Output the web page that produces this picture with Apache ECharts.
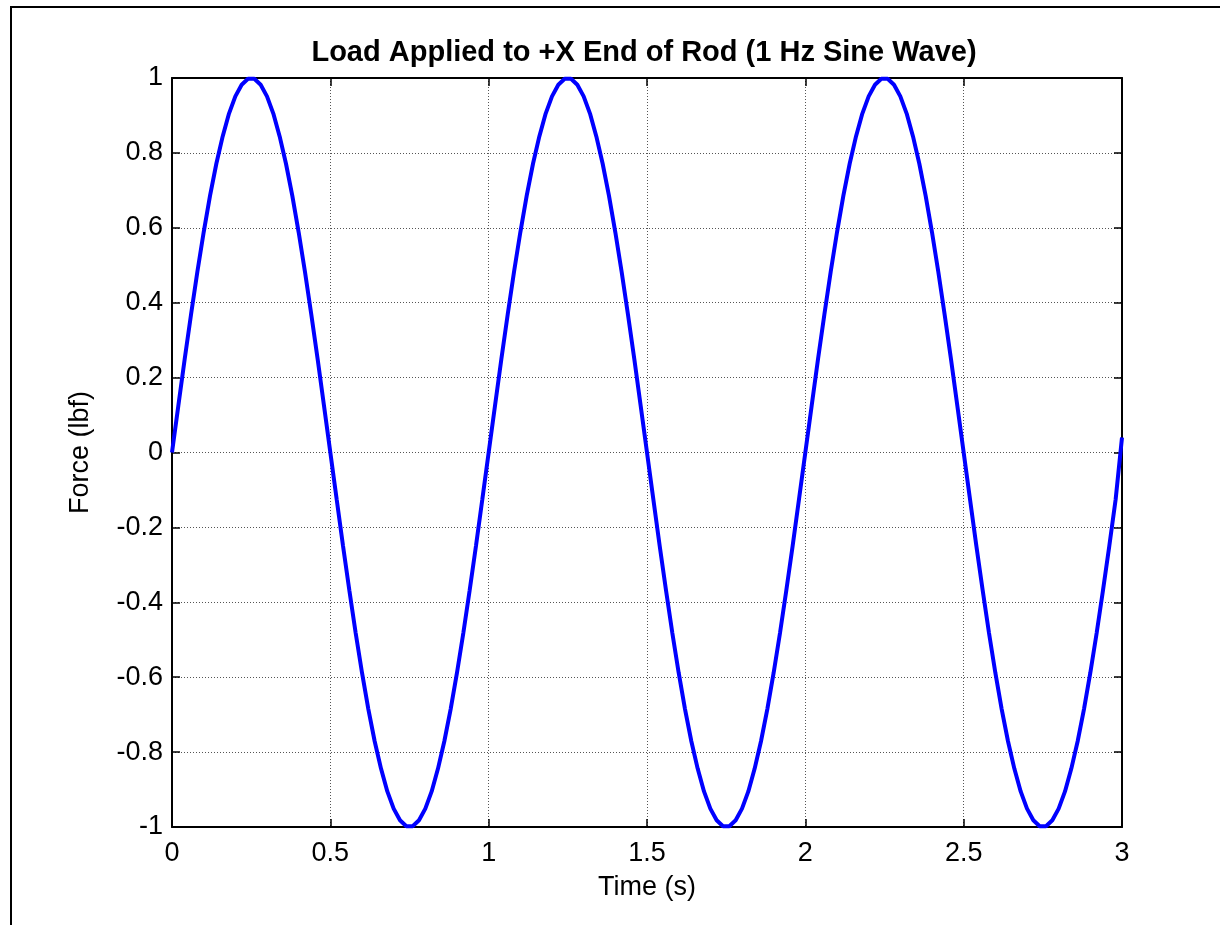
<!DOCTYPE html>
<html>
<head>
<meta charset="utf-8">
<script src="https://cdn.jsdelivr.net/npm/echarts@6/dist/echarts.min.js"></script>
<style>
html,body{margin:0;padding:0;background:#fff;}
#chart{width:1220px;height:925px;}
</style>
</head>
<body>
<div id="chart"></div>
<script>
var titleText = 'Load Applied to +X End of Rod (1 Hz Sine Wave)';
var xAxisName = 'Time (s)';
var yAxisName = 'Force (lbf)';

var timeS = [
0.00,0.02,0.04,0.06,0.08,0.10,0.12,0.14,0.16,0.18,0.20,0.22,0.24,0.26,0.28,0.30,0.32,0.34,0.36,0.38,
0.40,0.42,0.44,0.46,0.48,0.50,0.52,0.54,0.56,0.58,0.60,0.62,0.64,0.66,0.68,0.70,0.72,0.74,0.76,0.78,
0.80,0.82,0.84,0.86,0.88,0.90,0.92,0.94,0.96,0.98,1.00,1.02,1.04,1.06,1.08,1.10,1.12,1.14,1.16,1.18,
1.20,1.22,1.24,1.26,1.28,1.30,1.32,1.34,1.36,1.38,1.40,1.42,1.44,1.46,1.48,1.50,1.52,1.54,1.56,1.58,
1.60,1.62,1.64,1.66,1.68,1.70,1.72,1.74,1.76,1.78,1.80,1.82,1.84,1.86,1.88,1.90,1.92,1.94,1.96,1.98,
2.00,2.02,2.04,2.06,2.08,2.10,2.12,2.14,2.16,2.18,2.20,2.22,2.24,2.26,2.28,2.30,2.32,2.34,2.36,2.38,
2.40,2.42,2.44,2.46,2.48,2.50,2.52,2.54,2.56,2.58,2.60,2.62,2.64,2.66,2.68,2.70,2.72,2.74,2.76,2.78,
2.80,2.82,2.84,2.86,2.88,2.90,2.92,2.94,2.96,2.98,3.00
];

var forceLbf = [
0,0.125,0.249,0.368,0.482,0.588,0.685,0.771,0.844,0.905,0.951,0.982,0.998,0.998,0.982,0.951,0.905,0.844,0.771,0.685,
0.588,0.482,0.368,0.249,0.125,0,-0.125,-0.249,-0.368,-0.482,-0.588,-0.685,-0.771,-0.844,-0.905,-0.951,-0.982,-0.998,-0.998,-0.982,
-0.951,-0.905,-0.844,-0.771,-0.685,-0.588,-0.482,-0.368,-0.249,-0.125,
0,0.125,0.249,0.368,0.482,0.588,0.685,0.771,0.844,0.905,0.951,0.982,0.998,0.998,0.982,0.951,0.905,0.844,0.771,0.685,
0.588,0.482,0.368,0.249,0.125,0,-0.125,-0.249,-0.368,-0.482,-0.588,-0.685,-0.771,-0.844,-0.905,-0.951,-0.982,-0.998,-0.998,-0.982,
-0.951,-0.905,-0.844,-0.771,-0.685,-0.588,-0.482,-0.368,-0.249,-0.125,
0,0.125,0.249,0.368,0.482,0.588,0.685,0.771,0.844,0.905,0.951,0.982,0.998,0.998,0.982,0.951,0.905,0.844,0.771,0.685,
0.588,0.482,0.368,0.249,0.125,0,-0.125,-0.249,-0.368,-0.482,-0.588,-0.685,-0.771,-0.844,-0.905,-0.951,-0.982,-0.998,-0.998,-0.982,
-0.951,-0.905,-0.844,-0.771,-0.685,-0.588,-0.482,-0.368,-0.249,-0.125,
0.04
];

var xMin = 0, xMax = 3, xStep = 0.5;
var yMin = -1, yMax = 1, yStep = 0.2;

var seriesData = timeS.map(function (t, i) { return [t, forceLbf[i]]; });

var FONT = '"Liberation Sans", Arial, sans-serif';
var chart = echarts.init(document.getElementById('chart'), null, {renderer: 'canvas'});

var tickStyle = {show: true, inside: true, length: 8, lineStyle: {color: '#000', width: 1.5}};
var gridStyle = {show: true, lineStyle: {color: '#555', width: 1, type: [1, 2]}};
var axisLineStyle = {show: true, onZero: false, lineStyle: {color: '#000', width: 2}};

chart.setOption({
  backgroundColor: '#fff',
  animation: false,
  graphic: [{
    type: 'rect',
    shape: {x: 11, y: 7, width: 1400, height: 1200},
    style: {fill: 'none', stroke: '#000', lineWidth: 2},
    silent: true
  }],
  title: {
    text: titleText,
    left: 639, top: 33, textAlign: 'center',
    textStyle: {fontFamily: FONT, fontWeight: 'bold', fontSize: 29, color: '#000'}
  },
  grid: {left: 172, right: 98, top: 78, bottom: 98, containLabel: false},
  xAxis: [{
    type: 'value', min: xMin, max: xMax, interval: xStep, position: 'bottom',
    name: xAxisName, nameLocation: 'middle', nameGap: 47,
    nameTextStyle: {fontFamily: FONT, fontSize: 27, color: '#000'},
    axisLine: axisLineStyle,
    axisTick: tickStyle,
    axisLabel: {fontFamily: FONT, fontSize: 27, color: '#000', margin: 13},
    splitLine: gridStyle
  }, {
    type: 'value', min: xMin, max: xMax, interval: xStep, position: 'top',
    axisLine: axisLineStyle,
    axisTick: tickStyle, axisLabel: {show: false}, splitLine: {show: false}
  }],
  yAxis: [{
    type: 'value', min: yMin, max: yMax, interval: yStep, position: 'left',
    name: yAxisName, nameLocation: 'middle', nameGap: 78, nameRotate: 90,
    nameTextStyle: {fontFamily: FONT, fontSize: 27, color: '#000'},
    axisLine: axisLineStyle,
    axisTick: tickStyle,
    axisLabel: {fontFamily: FONT, fontSize: 27, color: '#000', margin: 9},
    splitLine: gridStyle
  }, {
    type: 'value', min: yMin, max: yMax, interval: yStep, position: 'right',
    axisLine: axisLineStyle,
    axisTick: tickStyle, axisLabel: {show: false}, splitLine: {show: false}
  }],
  series: [{
    type: 'line', xAxisIndex: 0, yAxisIndex: 0,
    data: seriesData, showSymbol: false, symbol: 'none', smooth: false,
    lineStyle: {color: '#0000ff', width: 4},
    clip: true
  }]
});
</script>
</body>
</html>
